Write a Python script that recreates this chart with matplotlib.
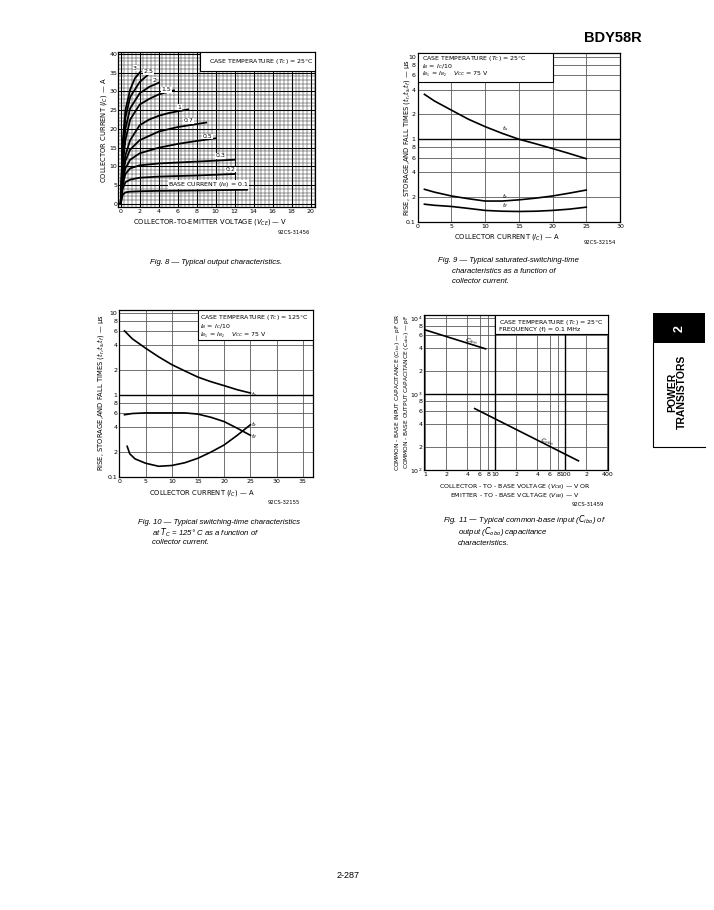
import numpy as np
import matplotlib
matplotlib.use('Agg')
import matplotlib.pyplot as plt
from matplotlib.patches import Rectangle

W, H = 714, 910

# Fig. 8 - output characteristics, one curve per base current
ib_labels = ['0.1', '0.2', '0.3', '0.5', '0.7', '1', '1.5', '2', '2.5', '3']
out_vce = [
    [0, 0.2, 0.5, 1, 2, 4, 8, 13.3],
    [0, 0.2, 0.5, 1, 2, 4, 8, 12],
    [0, 0.2, 0.5, 1, 2, 4, 8, 12],
    [0, 0.2, 0.5, 1, 2, 4, 6, 8, 10],
    [0, 0.2, 0.5, 1, 2, 4, 6, 8, 9],
    [0, 0.2, 0.5, 1, 2, 3, 4, 5, 6, 7.1],
    [0, 0.2, 0.5, 1, 2, 3, 4, 5.6],
    [0, 0.2, 0.5, 1, 2, 3, 4],
    [0, 0.2, 0.5, 1, 2, 2.9],
    [0, 0.2, 0.5, 1, 1.5, 2.1],
]
out_ic = [
    [0, 2.4, 3.1, 3.3, 3.4, 3.5, 3.6, 3.8],
    [0, 4, 5.8, 6.5, 7.0, 7.3, 7.6, 8.0],
    [0, 5, 8, 9.5, 10.3, 10.8, 11.3, 11.8],
    [0, 6, 9.5, 11.8, 13.5, 15, 16, 16.8, 17.5],
    [0, 7, 11.5, 14.5, 17, 19.3, 20.5, 21.3, 21.7],
    [0, 8, 13, 17, 21, 22.5, 23.5, 24.2, 24.7, 25.2],
    [0, 10, 17, 22.5, 26.5, 28, 29.2, 30.3],
    [0, 12, 20, 25.5, 29.5, 31.2, 32.3],
    [0, 14, 23, 28.5, 32.5, 34.5],
    [0, 16, 25, 30.5, 33.5, 35.3],
]

# Fig. 9 - switching times at Tc = 25 C
sw25_ic = [1, 2.5, 5, 7.5, 10, 12.5, 15, 17.5, 20, 22.5, 25]
sw25_ts = [3.5, 2.9, 2.25, 1.75, 1.42, 1.18, 1.0, 0.88, 0.77, 0.67, 0.58]
sw25_tr = [0.247, 0.228, 0.205, 0.19, 0.178, 0.178, 0.184, 0.193, 0.205, 0.222, 0.242]
sw25_tf = [0.163, 0.158, 0.153, 0.145, 0.137, 0.134, 0.133, 0.134, 0.137, 0.142, 0.150]

# Fig. 10 - switching times at Tc = 125 C
sw125_ic = [1, 2.5, 5, 7.5, 10, 12.5, 15, 17.5, 20, 22.5, 25]
sw125_ts = [6.0, 4.8, 3.7, 2.9, 2.33, 1.95, 1.64, 1.44, 1.29, 1.15, 1.05]
sw125_tf = [0.57, 0.59, 0.6, 0.6, 0.6, 0.6, 0.58, 0.53, 0.47, 0.39, 0.32]
sw125_tr_ic = [1.5, 2, 3, 5, 7.5, 10, 12.5, 15, 17.5, 20, 22.5, 25]
sw125_tr = [0.235, 0.19, 0.165, 0.146, 0.134, 0.137, 0.148, 0.168, 0.2, 0.244, 0.32, 0.43]

# Fig. 11 - capacitances
cibo_v = [1, 7.3]
cibo_pf = [7000, 3940]
cobo_v = [5.1, 155]
cobo_pf = [644, 132]

FS = 4.5
LFS = 4.9
CAP = 5.6
plt.rcParams['font.family'] = ['DejaVu Sans']
plt.rcParams['mathtext.fontset'] = 'dejavusans'

fig = plt.figure(figsize=(W / 100, H / 100), dpi=100)


def add_ax(l, t, r, b):
    ax = fig.add_axes([l / W, 1 - b / H, (r - l) / W, (b - t) / H])
    for s in ax.spines.values():
        s.set_linewidth(0.9)
    ax.tick_params(length=0, labelsize=FS, pad=1.5)
    return ax


def ftext(x, y, s, **kw):
    kw.setdefault('fontsize', LFS)
    fig.text(x / W, 1 - y / H, s, **kw)


def cap(x, y, lines, indent, step=10.4):
    for i, s in enumerate(lines):
        fig.text((x + (indent if i else 0)) / W, 1 - (y + i * step) / H, s,
                 fontsize=CAP, style='italic', family='Liberation Sans', va='center')


def corner_box(ax, x0, x1, y0, y1, lines, tx, tys):
    # white legend block drawn in data units
    ax.add_patch(Rectangle((x0, y0), x1 - x0, y1 - y0, facecolor='white',
                           edgecolor='black', lw=0.8, zorder=5, clip_on=True))
    for s, ty in zip(lines, tys):
        ax.text(tx, ty, s, fontsize=FS, va='center', zorder=6)


# ---------- Fig. 8 ----------
ax = add_ax(118, 52, 315, 207)
ax.set_xlim(-0.28, 20.45)
ax.set_ylim(-0.8, 40.5)
ax.set_xticks(np.arange(0, 20.1, 2))
ax.set_yticks(np.arange(0, 40.1, 5))
ax.set_xticks(np.arange(0, 20.5, 0.4), minor=True)
ax.set_yticks(np.arange(0, 40.5, 1), minor=True)
ax.tick_params(which='minor', length=0)
ax.tick_params(axis='y', pad=0.5)
ax.grid(which='minor', color='0.15', lw=0.35)
ax.grid(which='major', color='black', lw=0.8)
for vx, iy in zip(out_vce, out_ic):
    ax.plot(vx, iy, color='black', lw=1.3, zorder=3)
lab_pos = [(5.0, 5.2), (11.0, 9.2), (10.0, 12.9), (8.6, 18.0), (6.6, 22.2),
           (6.0, 25.8), (4.3, 30.4), (3.3, 33.0), (2.4, 35.2), (1.3, 36.2)]
for (lx, ly), s in zip(lab_pos, ib_labels):
    if s == '0.1':
        s = r'BASE CURRENT ($I_B$) = 0.1'
    ax.text(lx, ly, s, fontsize=FS, va='center', zorder=4,
            bbox=dict(facecolor='white', edgecolor='none', pad=0.3))
corner_box(ax, 8.4, 20.45, 35.4, 40.5, [r'CASE TEMPERATURE ($T_C$) = 25°C'],
           9.3, [38.0])
ftext(104, 130, r'COLLECTOR CURRENT ($I_C$) — A', rotation=90, ha='center', va='center')
ftext(210, 222, r'COLLECTOR-TO-EMITTER VOLTAGE ($V_{CE}$) — V', ha='center', va='center')
ftext(310, 232, '92CS-31456', ha='right', va='center', fontsize=3.8)
cap(150, 262, ['Fig. 8 — Typical output characteristics.'], 0)


def switching_axes(ax, xmax, ymax, xt):
    ax.set_yscale('log')
    ax.set_xlim(0, xmax)
    ax.set_ylim(0.1, ymax)
    ax.set_xticks(xt)
    yt = [0.1, 0.2, 0.4, 0.6, 0.8, 1, 2, 4, 6, 8, 10]
    ax.set_yticks(yt)
    ax.set_yticklabels(['0.1', '2', '4', '6', '8', '1', '2', '4', '6', '8', '10'])
    ax.set_yticks([], minor=True)
    ax.grid(color='0.35', lw=0.6)
    ax.axhline(1, color='black', lw=1.0, zorder=2)


# ---------- Fig. 9 ----------
ax = add_ax(417.7, 53.3, 620, 221.7)
switching_axes(ax, 30, 11, np.arange(0, 31, 5))
ax.plot(sw25_ic, sw25_ts, color='black', lw=1.2)
ax.plot(sw25_ic, sw25_tr, color='black', lw=1.2)
ax.plot(sw25_ic, sw25_tf, color='black', lw=1.2)
ax.text(12.5, 1.35, '$t_s$', fontsize=FS, va='center')
ax.text(12.5, 0.202, '$t_r$', fontsize=FS, va='center')
ax.text(12.5, 0.157, '$t_f$', fontsize=FS, va='center')
corner_box(ax, 0, 20, 5.0, 11,
           [r'CASE TEMPERATURE ($T_C$) = 25°C', r'$I_B$ = $I_C$/10',
            r'$I_{B_1}$ = $I_{B_2}$    $V_{CC}$ = 75 V'],
           0.6, [9.4, 7.6, 6.1])
ftext(407, 138, r'RISE, STORAGE,AND FALL TIMES ($t_r$,$t_s$,$t_f$) — μs',
      rotation=90, ha='center', va='center')
ftext(507, 237, r'COLLECTOR CURRENT ($I_C$) — A', ha='center', va='center')
ftext(616, 242, '92CS-32154', ha='right', va='center', fontsize=3.8)
cap(438, 261, ['Fig. 9 — Typical saturated-switching-time',
               'characteristics as a function of', 'collector current.'], 14.5)

# ---------- Fig. 10 ----------
ax = add_ax(119.3, 310, 313.3, 476.7)
switching_axes(ax, 37, 10.8, np.arange(0, 36, 5))
ax.plot(sw125_ic, sw125_ts, color='black', lw=1.2)
ax.plot(sw125_ic, sw125_tf, color='black', lw=1.2)
ax.plot(sw125_tr_ic, sw125_tr, color='black', lw=1.2)
ax.text(25.2, 1.0, '$t_s$', fontsize=FS, va='center')
ax.text(25.2, 0.43, '$t_r$', fontsize=FS, va='center')
ax.text(25.2, 0.31, '$t_f$', fontsize=FS, va='center')
corner_box(ax, 15, 37, 4.6, 10.8,
           [r'CASE TEMPERATURE ($T_C$) = 125°C', r'$I_B$ = $I_C$/10',
            r'$I_{B_1}$ = $I_{B_2}$    $V_{CC}$ = 75 V'],
           15.4, [8.7, 6.85, 5.35])
ftext(100, 393, r'RISE, STORAGE,AND FALL TIMES ($t_r$,$t_s$,$t_f$) — μs',
      rotation=90, ha='center', va='center')
ftext(202, 493, r'COLLECTOR CURRENT ($I_C$) — A', ha='center', va='center')
ftext(300, 502, '92CS-32155', ha='right', va='center', fontsize=3.8)
cap(138, 522, ['Fig. 10 — Typical switching-time characteristics',
               'at $T_C$ = 125° C as a function of', 'collector current.'], 14.5)

# ---------- Fig. 11 ----------
ax = add_ax(424.3, 315, 608, 470)
ax.set_xscale('log')
ax.set_yscale('log')
ax.set_xlim(0.97, 410)
ax.set_ylim(100, 11000)
xt = [1, 2, 4, 6, 8, 10, 20, 40, 60, 80, 100, 200, 400]
ax.set_xticks(xt)
ax.set_xticklabels(['1', '2', '4', '6', '8', '10', '2', '4', '6', '8', '100', '2', '400'])
yt = [100, 200, 400, 600, 800, 1000, 2000, 4000, 6000, 8000, 10000]
ax.set_yticks(yt)
ax.set_yticklabels(['$10^2$', '2', '4', '6', '8', '$10^3$', '2', '4', '6', '8', '$10^4$'])
ax.set_xticks([], minor=True)
ax.set_yticks([], minor=True)
ax.grid(color='0.35', lw=0.6)
ax.axvline(10, color='black', lw=1.0)
ax.axvline(100, color='black', lw=1.0)
ax.axhline(1000, color='black', lw=1.0)
ax.plot(cibo_v, cibo_pf, color='black', lw=1.2)
ax.plot(cobo_v, cobo_pf, color='black', lw=1.2)
ax.text(4.5, 5000, '$C_{ibo}$', fontsize=FS, rotation=-14, ha='center', va='center')
ax.text(56, 235, '$C_{obo}$', fontsize=FS, rotation=-18, ha='center', va='center')
corner_box(ax, 10, 410, 6100, 11000,
           [r'CASE TEMPERATURE ($T_C$) = 25°C', r'FREQUENCY (f) = 0.1 MHz'],
           11.2, [8700, 7150])
ftext(398, 392, r'COMMON - BASE INPUT CAPACITANCE ($C_{ibo}$) — pF OR',
      rotation=90, ha='center', va='center', fontsize=4.2)
ftext(406.5, 392, r'COMMON - BASE OUTPUT CAPACITANCE ($C_{obo}$) — pF',
      rotation=90, ha='center', va='center', fontsize=4.2)
ftext(515, 486.5, r'COLLECTOR - TO - BASE VOLTAGE ($V_{CB}$) — V OR', ha='center',
      va='center', fontsize=FS)
ftext(515, 495.5, r'EMITTER - TO - BASE VOLTAGE ($V_{EB}$) — V', ha='center',
      va='center', fontsize=FS)
ftext(604, 505, '92CS-31459', ha='right', va='center', fontsize=3.8)
cap(443, 520, ['Fig. 11 — Typical common-base input ($C_{ibo}$) of',
               'output ($C_{obo}$) capacitance', 'characteristics.'], 14.5, step=11.6)

# ---------- page furniture ----------
ftext(613, 38, 'BDY58R', fontsize=10.5, weight='bold', family='Liberation Sans',
      ha='center', va='center')
ftext(348, 875, '2-287', fontsize=6.5, family='Liberation Sans', ha='center', va='center')
fig.patches.append(Rectangle((653 / W, 1 - 343 / H), 52 / W, 30 / H, transform=fig.transFigure,
                             facecolor='black', edgecolor='none'))
fig.lines.append(plt.Line2D([653 / W, 653 / W, 705 / W], [1 - 343 / H, 1 - 447 / H, 1 - 447 / H],
                            transform=fig.transFigure, color='black', lw=0.8))
ftext(680, 329, '2', fontsize=9, weight='bold', color='white', rotation=90,
      family='Liberation Sans', ha='center', va='center')
ftext(672, 392, 'POWER', fontsize=7.5, weight='bold', rotation=90,
      family='Liberation Sans', ha='center', va='center')
ftext(682, 392, 'TRANSISTORS', fontsize=7.5, weight='bold', rotation=90,
      family='Liberation Sans', ha='center', va='center')

fig.savefig('out.png', dpi=100, facecolor='white')
